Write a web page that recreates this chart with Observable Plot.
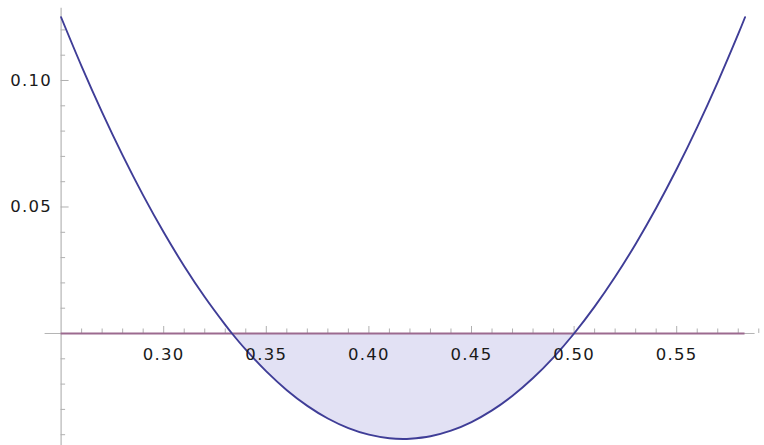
<!DOCTYPE html>
<html>
<head>
<meta charset="utf-8">
<script src="https://cdn.jsdelivr.net/npm/d3@7"></script>
<script src="https://cdn.jsdelivr.net/npm/@observablehq/plot@0.6"></script>
<style>
  html, body { margin: 0; padding: 0; background: #fff; }
  #chart svg { display: block; }
</style>
</head>
<body>
<div id="chart"></div>
<script>
// Curve values
const xs = [0.25, 0.26, 0.27, 0.28, 0.29, 0.30, 0.31, 0.32, 0.33, 0.3333, 0.34, 0.35, 0.36, 0.37, 0.38, 0.39, 0.40, 0.41, 0.4167, 0.42, 0.43, 0.44, 0.45, 0.46, 0.47, 0.48, 0.49, 0.50, 0.51, 0.52, 0.53, 0.54, 0.55, 0.56, 0.57, 0.58, 0.5833];
const ys = [0.125, 0.1056, 0.0874, 0.0704, 0.0546, 0.040, 0.0266, 0.0144, 0.0034, 0, -0.0064, -0.015, -0.0224, -0.0286, -0.0336, -0.0374, -0.040, -0.0414, -0.0417, -0.0416, -0.0406, -0.0384, -0.035, -0.0304, -0.0246, -0.0176, -0.0094, 0, 0.0106, 0.0224, 0.0354, 0.0496, 0.065, 0.0816, 0.0994, 0.1184, 0.125];
const xTickLabels = [0.30, 0.35, 0.40, 0.45, 0.50, 0.55];
const yTickLabels = [0.05, 0.10];
const xMinorTicks = [0.26,0.27,0.28,0.29,0.30,0.31,0.32,0.33,0.34,0.35,0.36,0.37,0.38,0.39,0.40,0.41,0.42,0.43,0.44,0.45,0.46,0.47,0.48,0.49,0.50,0.51,0.52,0.53,0.54,0.55,0.56,0.57,0.58,0.59];
const yMinorTicks = [-0.04,-0.03,-0.02,-0.01,0.01,0.02,0.03,0.04,0.05,0.06,0.07,0.08,0.09,0.10,0.11,0.12];

const curve = xs.map((x, i) => ({x, y: ys[i]}));
const below = curve.filter(d => d.x >= 0.3333 && d.x <= 0.50);

const X_PX = 1 / 2052; // x units per pixel
const Y_PX = 1 / 2530; // y units per pixel
const isMajor = v => Math.abs(v * 20 - Math.round(v * 20)) < 1e-6;

const chart = Plot.plot({
  width: 764,
  height: 445,
  marginLeft: 0, marginRight: 0, marginTop: 0, marginBottom: 0,
  x: {domain: [0.25 - 60.6 * X_PX, 0.25 + (764 - 60.6) * X_PX], range: [0, 764], axis: null},
  y: {domain: [-0.04427, 0.13162], range: [445, 0], axis: null},
  style: {fontFamily: "DejaVu Sans", background: "#fff"},
  marks: [
    Plot.areaY(below, {x: "x", y1: 0, y2: "y", fill: "#e2e1f4", curve: "catmull-rom"}),
    // x axis
    Plot.ruleY([0], {x1: 0.25 - 16 * X_PX, x2: 0.25 + 694 * X_PX, stroke: "#b5b5b5", strokeWidth: 1}),
    Plot.ruleX(xMinorTicks, {x: d => d, y1: 0, y2: d => (isMajor(d) ? 7 : 4.5) * Y_PX, stroke: "#b0b0b0", strokeWidth: 1}),
    // y axis
    Plot.ruleX([0.25], {y1: -0.0443, y2: 0.1286, stroke: "#b5b5b5", strokeWidth: 1.2}),
    Plot.ruleY(yMinorTicks, {y: d => d, x1: 0.25, x2: d => 0.25 + (isMajor(d) ? 8 : 4.5) * X_PX, stroke: "#b0b0b0", strokeWidth: 1}),
    // zero function line
    Plot.ruleY([0], {x1: 0.25, x2: 0.5833, stroke: "#9c6a8f", strokeWidth: 2}),
    // curve
    Plot.line(curve, {x: "x", y: "y", stroke: "#3f3d97", strokeWidth: 1.9, curve: "catmull-rom"}),
    // labels
    Plot.text(xTickLabels, {x: d => d, y: 0, dy: 21, text: d => d.toFixed(2), fontSize: 16.5, fill: "#1a1a1a"}),
    Plot.text(yTickLabels, {x: 0.25, y: d => d, dx: -9, textAnchor: "end", text: d => d.toFixed(2), fontSize: 16.5, fill: "#1a1a1a"})
  ]
});
chart.querySelectorAll("text").forEach(t => t.style.letterSpacing = "1.3px");
document.getElementById("chart").appendChild(chart);
</script>
</body>
</html>
